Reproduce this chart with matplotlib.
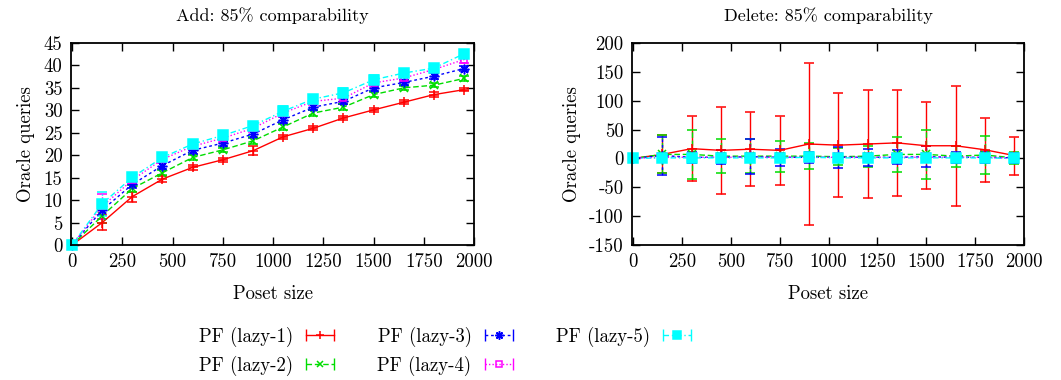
import matplotlib
matplotlib.use("Agg")
import matplotlib.pyplot as plt
from matplotlib.lines import Line2D
from matplotlib.legend_handler import HandlerLine2D, HandlerTuple
import numpy as np

plt.rcParams['font.family'] = ['cmr10', 'DejaVu Serif']
plt.rcParams['axes.unicode_minus'] = False
plt.rcParams['mathtext.fontset'] = 'cm'

sizes = [0, 150, 300, 450, 600, 750, 900, 1050, 1200, 1350, 1500, 1650, 1800, 1950]
labels = ['PF (lazy-1)', 'PF (lazy-2)', 'PF (lazy-3)', 'PF (lazy-4)', 'PF (lazy-5)']

# Add: mean oracle queries and errors
add_mean = [
    [0, 5.0, 10.8, 14.7, 17.3, 19.0, 21.0, 24.1, 26.0, 28.3, 30.1, 31.8, 33.5, 34.6],
    [0, 6.5, 12.6, 16.1, 19.5, 21.2, 23.2, 26.3, 29.4, 30.7, 33.5, 35.0, 35.6, 37.1],
    [0, 7.8, 13.5, 17.7, 21.1, 22.7, 24.7, 27.9, 30.7, 32.0, 35.0, 36.2, 37.6, 39.3],
    [0, 8.6, 14.5, 19.1, 22.0, 23.8, 26.0, 29.4, 32.0, 32.7, 36.1, 37.2, 39.1, 41.3],
    [0, 9.2, 15.1, 19.5, 22.5, 24.4, 26.6, 29.8, 32.5, 33.9, 36.8, 38.3, 39.4, 42.6],
]
add_err = [
    [0, 1.7, 1.1, 0.6, 0.6, 0.4, 1.0, 0.5, 0.4, 0.4, 0.5, 0.5, 0.5, 0.3],
    [0, 1.5, 0.8, 0.6, 0.6, 0.5, 0.8, 0.6, 0.6, 0.6, 0.6, 0.5, 0.5, 0.6],
    [0, 2.0, 0.8, 0.8, 0.8, 0.7, 0.8, 0.7, 0.7, 0.7, 0.7, 0.6, 0.6, 0.6],
    [0, 2.8, 0.9, 0.9, 0.8, 0.8, 0.8, 0.8, 0.8, 0.8, 0.8, 0.7, 0.8, 0.8],
    [0, 2.7, 1.0, 0.9, 1.0, 1.0, 0.9, 1.1, 1.0, 1.0, 1.0, 0.8, 0.9, 0.8],
]

# Delete: mean oracle queries and errors
del_mean = [
    [0, 7, 17, 14, 16, 14, 25, 23, 25, 27, 22, 22, 15, 5],
    [0, 7, 7, 4, 4, 4, 4, 3, 4, 7, 7, 4, 6, 1],
    [0, 5, 2, 2, 3, 2, 2, 2, 2, 2, 3, 2, 2, 1],
    [0, 2, 2, 2, 2, 2, 2, 2, 2, 2, 2, 2, 2, 1],
    [0, 1, 1, 1, 1, 1, 2, 1, 1, 1, 1, 1, 1, 0],
]
del_err = [
    [0, 33, 56, 75, 64, 60, 140, 90, 94, 92, 75, 104, 55, 33],
    [0, 33, 43, 30, 30, 27, 23, 15, 18, 30, 43, 18, 33, 10],
    [0, 33, 10, 12, 30, 15, 10, 18, 15, 12, 18, 10, 10, 8],
    [0, 8, 8, 8, 8, 8, 8, 8, 8, 8, 8, 8, 8, 6],
    [0, 6, 6, 6, 6, 6, 6, 6, 6, 6, 6, 6, 6, 5],
]

colors = ['#ff0000', '#00dd00', '#0000ff', '#ff00ff', '#00ffff']
markers = ['+', 'x', (8, 2, 0), 's', 's']
lstyles = ['-', (0, (4, 2)), (0, (2, 2)), (0, (1, 1.5)), (0, (4, 2, 1, 2))]
mfc = ['#ff0000', '#00dd00', '#0000ff', 'none', '#00ffff']
msizes = [7, 6, 7, 5, 7]

fig = plt.figure(figsize=(10.61, 3.8), dpi=100)
ax1 = fig.add_axes([0.0669, 0.355, 0.380, 0.532])
ax2 = fig.add_axes([0.5957, 0.355, 0.3695, 0.532])

for ax, means, errs in [(ax1, add_mean, add_err), (ax2, del_mean, del_err)]:
    for i in range(5):
        cont = ax.errorbar(sizes, means[i], yerr=errs[i], color=colors[i],
                           ls=lstyles[i], lw=1, marker=markers[i], ms=msizes[i],
                           mfc=mfc[i], mec=colors[i], mew=1.1, capsize=3.5,
                           elinewidth=1, clip_on=False)
        for lc in cont[2]:
            lc.set_linestyle(lstyles[i])

ax1.set_ylim(0, 45)
ax1.set_yticks(np.arange(0, 46, 5))
ax2.set_ylim(-150, 200)
ax2.set_yticks(np.arange(-150, 201, 50))

for ax in (ax1, ax2):
    ax.set_xlim(-5, 2000)
    ax.set_xticks(np.arange(0, 2001, 250))
    ax.tick_params(direction='in', top=True, right=True, length=6, width=1, labelsize=13.5, pad=6)
    for s in ax.spines.values():
        s.set_linewidth(1.3)
    ax.set_xlabel('Poset size', fontsize=13.5, labelpad=10)
    ax.set_ylabel('Oracle queries', fontsize=13.5, labelpad=6)

ax1.set_title('Add: 85% comparability', fontsize=13, pad=16)
ax2.set_title('Delete: 85% comparability', fontsize=13, pad=16)

# legend samples drawn like gnuplot keys: line with marker and end caps
handles = []
hmap = {}
for i in range(5):
    ln = Line2D([], [], color=colors[i], ls=lstyles[i], lw=1, marker=markers[i],
                ms=msizes[i] - 1, mfc=mfc[i], mec=colors[i], mew=1.1)
    caps = Line2D([], [], color=colors[i], ls='none', marker='|', ms=8, mew=1)
    hmap[ln] = HandlerLine2D(numpoints=1)
    hmap[caps] = HandlerLine2D(numpoints=2, marker_pad=0)
    handles.append((ln, caps))
hmap[tuple] = HandlerTuple(ndivide=1)

fig.legend(handles=handles, labels=labels, loc='upper left', bbox_to_anchor=(0.175, 0.175),
           ncol=3, frameon=False, markerfirst=False, fontsize=13.5, handler_map=hmap,
           handlelength=1.5, columnspacing=2.3, labelspacing=0.46, handletextpad=0.7,
           borderpad=0.2)

fig.savefig('out.png', dpi=100)
